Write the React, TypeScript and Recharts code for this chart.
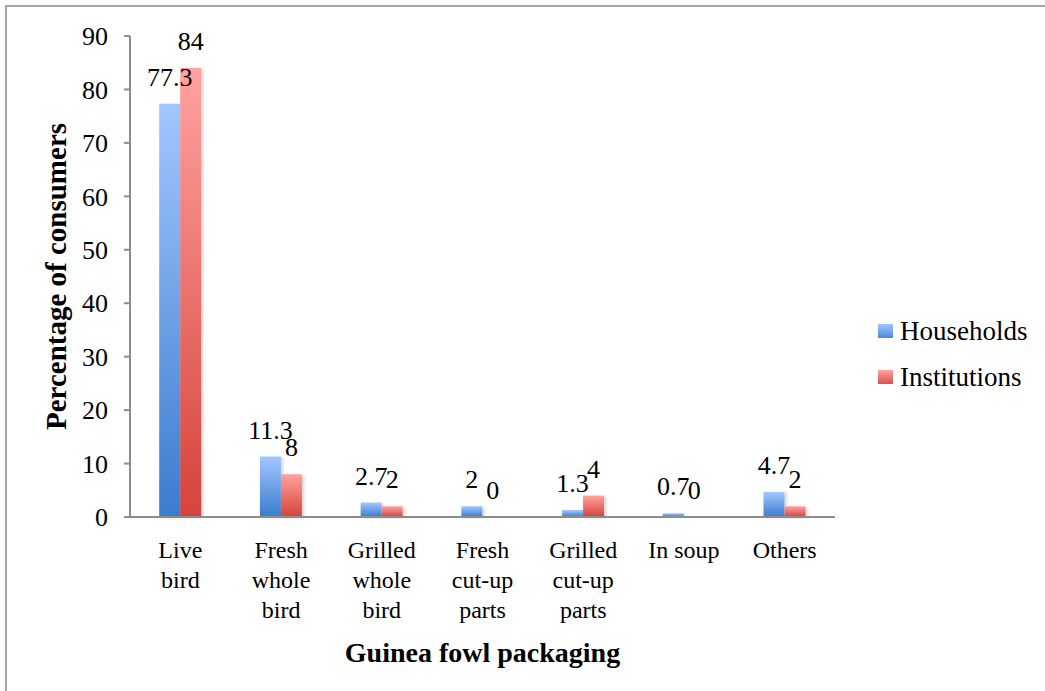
import { BarChart, Bar, XAxis, YAxis, Legend, LabelList, Label } from 'recharts';

const categories = [
  'Live bird',
  'Fresh whole bird',
  'Grilled whole bird',
  'Fresh cut-up parts',
  'Grilled cut-up parts',
  'In soup',
  'Others',
];
// wrapped lines for the category axis
const categoryLines = [
  ['Live', 'bird'],
  ['Fresh', 'whole', 'bird'],
  ['Grilled', 'whole', 'bird'],
  ['Fresh', 'cut-up', 'parts'],
  ['Grilled', 'cut-up', 'parts'],
  ['In soup'],
  ['Others'],
];
const households = [77.3, 11.3, 2.7, 2, 1.3, 0.7, 4.7];
const institutions = [84, 8, 2, 0, 4, 0, 2];
const yTicks = [0, 10, 20, 30, 40, 50, 60, 70, 80, 90];

const FONT = '"Liberation Serif", "Times New Roman", serif';
const AXIS_GRAY = '#8c8c8c';

const data = categories.map((name, i) => ({
  name,
  lines: categoryLines[i],
  households: households[i],
  institutions: institutions[i],
}));

// zero-valued bars still need a (hairline) rect so their "0" label is drawn
const keepZero = (value: any) => (Number(value) === 0 ? 0.01 : 0);

function CategoryTick(props: any) {
  const { x, y, payload } = props;
  const lines: string[] = data[payload.index]?.lines ?? [payload.value];
  return (
    <text x={x} y={y} textAnchor="middle" fontFamily={FONT} fontSize={24} fill="#000">
      {lines.map((l, i) => (
        <tspan key={i} x={x} dy={i === 0 ? 33 : 30}>
          {l}
        </tspan>
      ))}
    </text>
  );
}

function LegendBox() {
  const items = [
    { label: 'Households', from: '#a3c6ff', to: '#4a88d8' },
    { label: 'Institutions', from: '#ffa3a0', to: '#d9514a' },
  ];
  return (
    <div style={{ fontFamily: FONT, fontSize: 27, color: '#000' }}>
      {items.map((it) => (
        <div key={it.label} style={{ display: 'flex', alignItems: 'center', height: 46 }}>
          <span
            style={{
              display: 'inline-block',
              width: 15,
              height: 14,
              marginRight: 7,
              background: `linear-gradient(${it.from}, ${it.to})`,
            }}
          />
          {it.label}
        </div>
      ))}
    </div>
  );
}

export default function App() {
  return (
    <div
      style={{
        position: 'absolute',
        left: 0,
        top: 0,
        width: 1045,
        height: 691,
        overflow: 'hidden',
        background: '#fff',
      }}
    >
      <div
        style={{
          position: 'absolute',
          left: 5,
          top: 5,
          width: 1100,
          height: 760,
          border: '2px solid #a6a6a6',
          boxSizing: 'border-box',
        }}
      />
      <div style={{ position: 'absolute', left: 0, top: 0 }}>
        <BarChart
          width={1045}
          height={691}
          data={data}
          margin={{ top: 36, right: 40, bottom: 0, left: 50 }}
          barCategoryGap="29%"
          barGap={0}
        >
          <defs>
            <linearGradient id="gradBlue" x1="0" y1="0" x2="0" y2="1">
              <stop offset="0%" stopColor="#a3c6ff" />
              <stop offset="100%" stopColor="#3a7ccf" />
            </linearGradient>
            <linearGradient id="gradRed" x1="0" y1="0" x2="0" y2="1">
              <stop offset="0%" stopColor="#ffa29f" />
              <stop offset="100%" stopColor="#d4433a" />
            </linearGradient>
            <filter id="barShadow" x="-20%" y="-5%" width="150%" height="115%">
              <feDropShadow dx="2" dy="1" stdDeviation="1.5" floodColor="#000" floodOpacity="0.18" />
            </filter>
          </defs>
          <XAxis
            dataKey="name"
            interval={0}
            tickLine={false}
            axisLine={{ stroke: AXIS_GRAY, strokeWidth: 2 }}
            tick={<CategoryTick />}
            height={174}
          >
            <Label
              value="Guinea fowl packaging"
              position="insideTop"
              offset={125}
              style={{ fontFamily: FONT, fontSize: 28, fontWeight: 700, fill: '#000' }}
            />
          </XAxis>
          <YAxis
            domain={[0, 90]}
            ticks={yTicks}
            interval={0}
            width={80}
            tickSize={6}
            tickMargin={16}
            tickLine={{ stroke: AXIS_GRAY, strokeWidth: 2 }}
            axisLine={{ stroke: AXIS_GRAY, strokeWidth: 2 }}
            tick={{ fontFamily: FONT, fontSize: 26, fill: '#000' }}
          >
            <Label
              value="Percentage of consumers"
              angle={-90}
              position="center"
              dx={-34}
              style={{ fontFamily: FONT, fontSize: 29, fontWeight: 700, fill: '#000', textAnchor: 'middle' }}
            />
          </YAxis>
          <Legend
            layout="vertical"
            verticalAlign="top"
            align="right"
            content={<LegendBox />}
            wrapperStyle={{ position: 'absolute', left: 878, top: 308, width: 170 }}
          />
          <Bar
            dataKey="households"
            name="Households"
            fill="url(#gradBlue)"
            filter="url(#barShadow)"
            minPointSize={keepZero}
            isAnimationActive={false}
          >
            <LabelList
              dataKey="households"
              position="top"
              offset={18}
              style={{ fontFamily: FONT, fontSize: 26, fill: '#000' }}
            />
          </Bar>
          <Bar
            dataKey="institutions"
            name="Institutions"
            fill="url(#gradRed)"
            filter="url(#barShadow)"
            minPointSize={keepZero}
            isAnimationActive={false}
          >
            <LabelList
              dataKey="institutions"
              position="top"
              offset={18}
              style={{ fontFamily: FONT, fontSize: 26, fill: '#000' }}
            />
          </Bar>
        </BarChart>
      </div>
    </div>
  );
}
